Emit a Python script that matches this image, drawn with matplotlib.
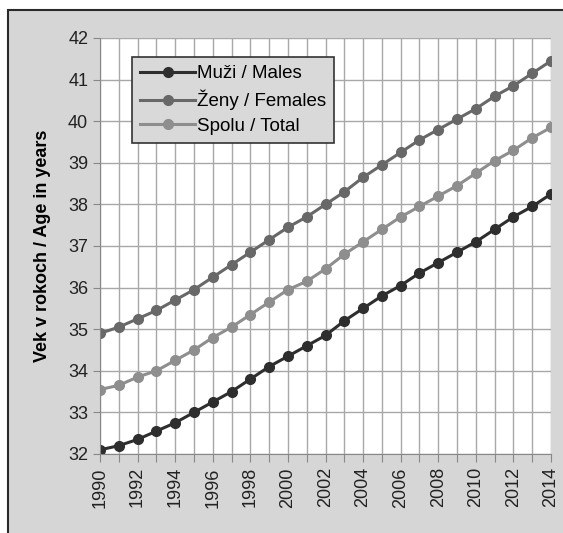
import matplotlib
matplotlib.use("Agg")
import matplotlib.pyplot as plt
from matplotlib.patches import Rectangle

# data
years = list(range(1990, 2015))
males = [32.1, 32.2, 32.35, 32.55, 32.75, 33.0, 33.25, 33.5, 33.8, 34.1,
         34.35, 34.6, 34.85, 35.2, 35.5, 35.8, 36.05, 36.35, 36.6, 36.85,
         37.1, 37.4, 37.7, 37.95, 38.25]
females = [34.9, 35.05, 35.25, 35.45, 35.7, 35.95, 36.25, 36.55, 36.85, 37.15,
           37.45, 37.7, 38.0, 38.3, 38.65, 38.95, 39.25, 39.55, 39.8, 40.05,
           40.3, 40.6, 40.85, 41.15, 41.45]
total = [33.55, 33.65, 33.85, 34.0, 34.25, 34.5, 34.8, 35.05, 35.35, 35.65,
         35.95, 36.15, 36.45, 36.8, 37.1, 37.4, 37.7, 37.95, 38.2, 38.45,
         38.75, 39.05, 39.3, 39.6, 39.85]
labels = ["Muži / Males", "Ženy / Females", "Spolu / Total"]

plt.rcParams['font.family'] = ['Liberation Sans', 'DejaVu Sans']

fig = plt.figure(figsize=(5.63, 5.33), dpi=100)
fig.patch.set_facecolor('white')

# gray chart frame (runs off the right and bottom edges)
frame = Rectangle((8 / 563, -0.1), 1.1, 1.1 - 10 / 533, transform=fig.transFigure,
                  facecolor='#d6d6d6', edgecolor='#2a2a2a', linewidth=1.5, zorder=-10)
fig.patches.append(frame)

ax = fig.add_axes([100 / 563, 1 - 454 / 533, 451 / 563, 416 / 533])
ax.set_facecolor('white')

ax.plot(years, males, color='#2e2e2e', marker='o', markersize=7, linewidth=2.2, label=labels[0])
ax.plot(years, females, color='#686868', marker='o', markersize=7, linewidth=2.2, label=labels[1])
ax.plot(years, total, color='#8e8e8e', marker='o', markersize=7, linewidth=2.2, label=labels[2])

ax.set_xlim(1990, 2014)
ax.set_ylim(32, 42)
ax.set_xticks(years)
ax.set_xticklabels([str(y) if y % 2 == 0 else '' for y in years], rotation=90,
                   fontsize=13)
ax.set_yticks(range(32, 43))
ax.tick_params(axis='y', labelsize=13, colors='#222222', length=5, color='#888888')
ax.tick_params(axis='x', colors='#222222', length=6, color='#888888')
ax.grid(True, color='#a8a8a8', linewidth=1.0)
ax.set_axisbelow(True)
for side in ['top', 'right']:
    ax.spines[side].set_visible(False)
ax.spines['left'].set_color('#888888')
ax.spines['bottom'].set_color('#888888')

ax.set_ylabel("Vek v rokoch / Age in years", fontsize=13, fontweight='bold', labelpad=12)

leg = ax.legend(loc='upper left', bbox_to_anchor=(0.071, 0.955), fontsize=13.5,
                frameon=True, fancybox=False, facecolor='#d9d9d9', edgecolor='#333333',
                framealpha=1, handlelength=2.9, handletextpad=0.1, borderpad=0.45,
                labelspacing=0.4, borderaxespad=0)
leg.get_frame().set_linewidth(1.2)

fig.savefig('out.png', dpi=100, facecolor=fig.get_facecolor())
